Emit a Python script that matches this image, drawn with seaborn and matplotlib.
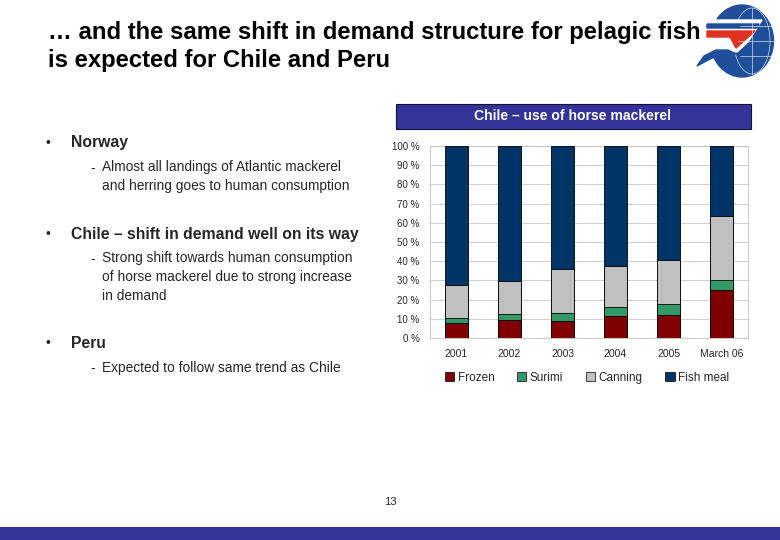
import matplotlib.pyplot as plt
import matplotlib.patches as mpatches
import seaborn as sns
import pandas as pd

# 数据（从图上读取，百分比）
years = ['2001', '2002', '2003', '2004', '2005', 'March 06']
frozen = [7.8, 9.2, 8.9, 11.3, 12.2, 24.9]
surimi = [2.5, 3.1, 4.0, 5.0, 5.7, 5.5]
canning = [17.5, 17.4, 22.8, 21.3, 22.8, 33.4]
fish_meal = [72.2, 70.3, 64.3, 62.4, 59.3, 36.2]

series_names = ['Frozen', 'Surimi', 'Canning', 'Fish meal']
series_colors = ['#800000', '#339966', '#C0C0C0', '#003366']

sns.set_theme(style='white')
plt.rcParams['font.family'] = ['Liberation Sans', 'DejaVu Sans']

df = pd.DataFrame({'year': years, 'Frozen': frozen, 'Surimi': surimi,
                   'Canning': canning, 'Fish meal': fish_meal})
# 累计值，从顶层往下画
cum = df[series_names].cumsum(axis=1)

fig = plt.figure(figsize=(7.8, 5.4), dpi=100)
fig.patch.set_facecolor('white')


def fy(y):
    # 像素 y（从上往下）转成 figure 坐标
    return 1 - y / 540


# 标题
fig.text(48 / 780, fy(33), '… and the same shift in demand structure for pelagic fish',
         fontsize=17.2, fontweight='bold', va='center', ha='left', color='black')
fig.text(48 / 780, fy(60), 'is expected for Chile and Peru',
         fontsize=17.2, fontweight='bold', va='center', ha='left', color='black')

# 简单的 logo（像素坐标）
logo = fig.add_axes([695 / 780, fy(82), 85 / 780, 80 / 540])
logo.set_xlim(695, 780)
logo.set_ylim(82, 2)
logo.axis('off')
blue = '#1f4e9a'
logo.add_patch(mpatches.Ellipse((742, 41), 63, 72, color=blue))
logo.add_patch(mpatches.Ellipse((752, 41), 36, 66, fill=False, ec='white', lw=0.4))
logo.plot([752, 752], [8, 74], color='white', lw=0.4)
logo.plot([738, 773], [41, 41], color='white', lw=0.4)
logo.plot([740, 771], [26, 26], color='white', lw=0.4)
logo.plot([740, 771], [56, 56], color='white', lw=0.4)
# 白色鸟形
logo.add_patch(mpatches.Polygon([[706, 20], [762, 20], [748, 42], [737, 52], [728, 50],
                                 [716, 52], [706, 58]], color='white'))
logo.add_patch(mpatches.Polygon([[707, 24], [759, 24], [757, 28], [707, 28]], color=blue))
logo.add_patch(mpatches.Polygon([[707, 31], [755, 31], [736, 48], [730, 37], [707, 37]],
                                color='#e03020'))
logo.add_patch(mpatches.Polygon([[697, 66], [704, 56], [716, 50], [728, 50], [736, 54],
                                 [724, 55], [712, 58]], color=blue))

# 左侧要点
body = 9.9
head = 11.3
fig.text(45 / 780, fy(143), '•', fontsize=10, va='center')
fig.text(71 / 780, fy(143), 'Norway', fontsize=head, fontweight='bold', va='center')
fig.text(90 / 780, fy(168), '-', fontsize=body, va='center')
fig.text(102 / 780, fy(176.5), 'Almost all landings of Atlantic mackerel\nand herring goes to human consumption',
         fontsize=body, va='center', linespacing=1.45)

fig.text(45 / 780, fy(234), '•', fontsize=10, va='center')
fig.text(71 / 780, fy(234), 'Chile – shift in demand well on its way', fontsize=head,
         fontweight='bold', va='center')
fig.text(90 / 780, fy(259), '-', fontsize=body, va='center')
fig.text(102 / 780, fy(277),
         'Strong shift towards human consumption\nof horse mackerel due to strong increase\nin demand',
         fontsize=body, va='center', linespacing=1.45)

fig.text(45 / 780, fy(343), '•', fontsize=10, va='center')
fig.text(71 / 780, fy(343), 'Peru', fontsize=head, fontweight='bold', va='center')
fig.text(90 / 780, fy(368), '-', fontsize=body, va='center')
fig.text(102 / 780, fy(368), 'Expected to follow same trend as Chile', fontsize=body, va='center')

# 图表标题框
fig.patches.append(mpatches.Rectangle((396 / 780, fy(129)), 355 / 780, 25 / 540,
                                      transform=fig.transFigure, facecolor='#333399',
                                      edgecolor='#111133', lw=0.8))
fig.text(573 / 780, fy(116.5), 'Chile – use of horse mackerel', color='white',
         fontsize=10.1, fontweight='bold', ha='center', va='center')

# 堆叠柱状图
ax = fig.add_axes([430 / 780, fy(338), 318 / 780, 192 / 540])
for name, color in zip(series_names[::-1], series_colors[::-1]):
    sns.barplot(x=df['year'], y=cum[name], color=color, ax=ax, width=0.43,
                edgecolor='black', linewidth=0.6, saturation=1, zorder=3)
ax.set_ylim(0, 100)
ax.set_yticks(range(0, 101, 10))
ax.set_yticklabels([f'{v} %' for v in range(0, 101, 10)], fontsize=7)
ax.tick_params(axis='x', labelsize=7.5, pad=2)
ax.tick_params(axis='y', pad=1.5)
ax.set_xlabel('')
ax.set_ylabel('')
ax.yaxis.grid(True, color='#c8c8c8', lw=0.6, zorder=0)
ax.set_axisbelow(True)
for side in ['top', 'right', 'left', 'bottom']:
    ax.spines[side].set_color('#c0c0c0')
    ax.spines[side].set_linewidth(0.6)

# 图例
handles = [mpatches.Patch(facecolor=c, edgecolor='black', linewidth=0.5, label=n)
           for n, c in zip(series_names, series_colors)]
fig.legend(handles=handles, loc='center', bbox_to_anchor=(587 / 780, fy(378)),
           ncol=4, frameon=False, fontsize=8.5, handlelength=0.8, handleheight=0.8,
           handletextpad=0.3, columnspacing=1.9)

# 页码和底部色条
fig.text(390 / 780, fy(502), '13', fontsize=8, ha='center', va='center')
fig.patches.append(mpatches.Rectangle((0, 0), 1, 13 / 540, transform=fig.transFigure,
                                      facecolor='#333399', edgecolor='none'))

plt.savefig('out.png', dpi=100)
